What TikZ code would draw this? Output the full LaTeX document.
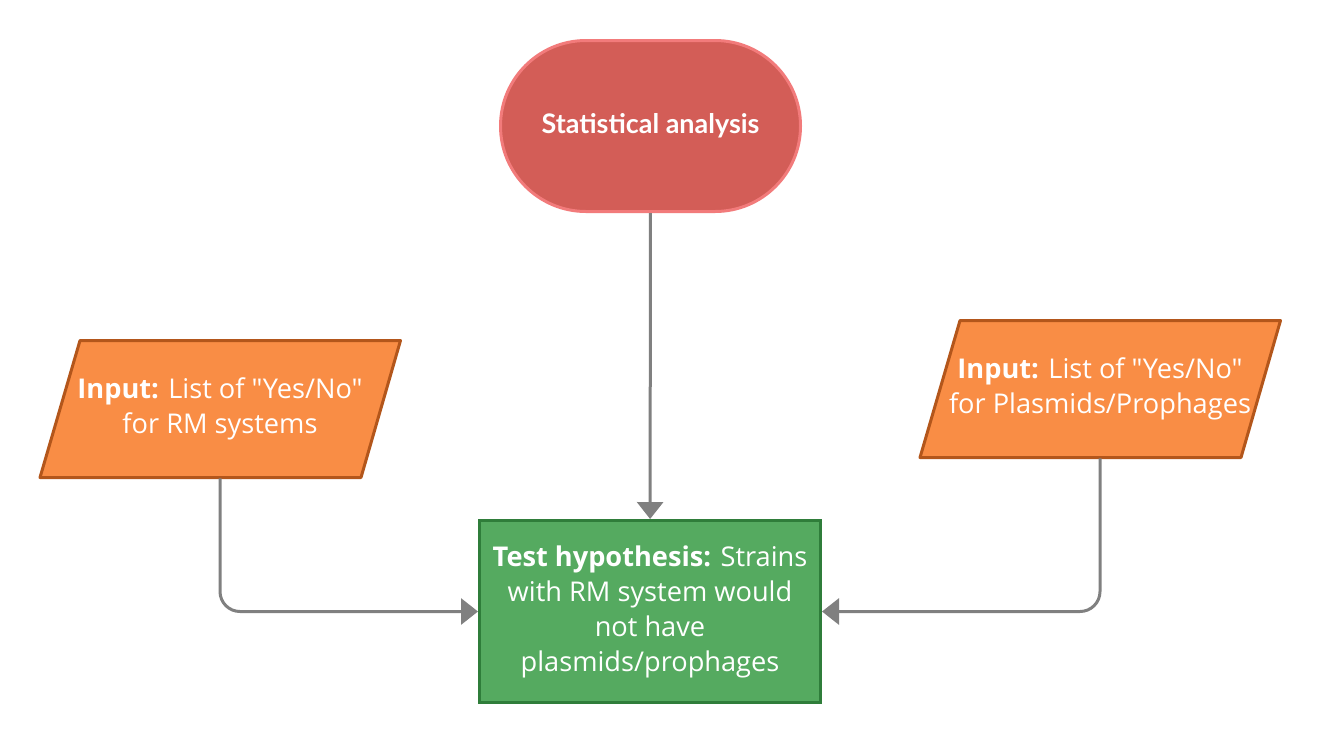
\documentclass[tikz,border=0pt]{standalone}
\usepackage{fontspec}
\setmainfont{Open Sans}[Ligatures=TeXOff]
\newfontfamily\latofont{Lato}
\usetikzlibrary{arrows.meta,shapes.misc}
\definecolor{stadfill}{HTML}{D35D57}
\definecolor{stadline}{HTML}{F27B7B}
\definecolor{orfill}{HTML}{F98D45}
\definecolor{orline}{HTML}{B3561B}
\definecolor{grfill}{HTML}{55AA60}
\definecolor{grline}{HTML}{2F7D3A}
\definecolor{conncol}{HTML}{808080}
\begin{document}
\begin{tikzpicture}[x=0.75pt,y=-0.75pt,
  stadium/.style={rounded rectangle, draw=stadline, fill=stadfill, line width=2.25pt,
    minimum width=300*0.75pt, minimum height=171*0.75pt, inner sep=0pt, text=white,
    font=\latofont\bfseries\fontsize{20.2}{26.25}\selectfont},
  parabox/.style={draw=orline, fill=orfill, line width=2.25pt, line join=round},
  paratext/.style={inner sep=0pt, text=white, align=center, minimum height=138*0.75pt,
    font=\fontsize{20.4}{26.25}\selectfont},
  testbox/.style={rectangle, draw=grline, fill=grfill, line width=2.25pt,
    minimum width=341*0.75pt, minimum height=182*0.75pt, inner sep=0pt, text=white,
    align=center, font=\fontsize{20.4}{26.25}\selectfont},
  conn/.style={draw=conncol, line width=2.25pt, rounded corners=15pt,
    -{Triangle[length=12.75pt,width=19.5pt]}}
]
\useasboundingbox (0,0) rectangle (1320,744);
\fill[white] (0,0) rectangle (1320,744);

\node[stadium] (stat) at (650.5,126) {Statistical analysis};

\filldraw[parabox] (80,340.5) -- (400.5,340.5) -- (361,477.5) -- (40,477.5) -- cycle;
\node[paratext] (in1) at (220,409) {\textbf{Input:} List of "Yes/No"\\for RM systems};

\filldraw[parabox] (960,320.5) -- (1280.5,320.5) -- (1241,457.5) -- (920,457.5) -- cycle;
\node[paratext] (in2) at (1100,389) {\textbf{Input:} List of "Yes/No"\\for Plasmids/Prophages};

\node[testbox] (test) at (650,611.5) {\textbf{Test hypothesis:} Strains\\with RM system would\\not have\\plasmids/prophages};

\draw[conn] (stat) -- (test);
\draw[conn] (in1.south) |- (test.west);
\draw[conn] (in2.south) |- (test.east);
\end{tikzpicture}
\end{document}
